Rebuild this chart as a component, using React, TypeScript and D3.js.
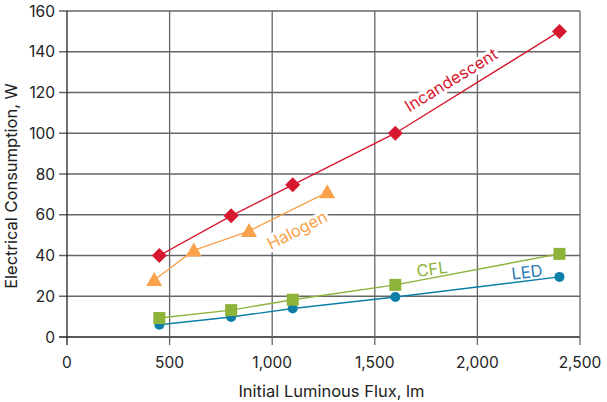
import React from "react";
import * as d3 from "d3";

const xTicks = [0, 500, 1000, 1500, 2000, 2500];
const yTicks = [0, 20, 40, 60, 80, 100, 120, 140, 160];

const incandescentX = [450, 800, 1100, 1600, 2400];
const incandescentY = [40, 59.5, 74.7, 100, 150];
const halogenX = [425, 618, 887, 1268];
const halogenY = [28, 42.5, 52, 71];
const cflX = [450, 800, 1100, 1600, 2400];
const cflY = [9.3, 13.2, 18.3, 25.6, 40.8];
const ledX = [450, 800, 1100, 1600, 2400];
const ledY = [6, 9.8, 14, 19.6, 29.5];

const FONT = "Inter, 'Liberation Sans', Arial, sans-serif";

export default function App() {
  const W = 607, H = 402;
  const x = d3.scaleLinear().domain([0, 2500]).range([67, 580]);
  const y = d3.scaleLinear().domain([0, 160]).range([337, 11]);
  const line = d3.line<[number, number]>().x(d => x(d[0])).y(d => y(d[1]));
  const pts = (xs: number[], ys: number[]) => xs.map((v, i) => [v, ys[i]] as [number, number]);

  const inc = pts(incandescentX, incandescentY);
  const hal = pts(halogenX, halogenY);
  const cfl = pts(cflX, cflY);
  const led = pts(ledX, ledY);

  const red = "#d7192f", orange = "#f9a24b", green = "#8db33a", blue = "#0d7fa6";
  const grid = "#666";
  const fs = 15.5;
  const ts = 16.5;

  return (
    <svg width={W} height={H} style={{ position: "absolute", left: 0, top: 0, background: "#fff" }}>
      {yTicks.map(t => (
        <line key={"gy" + t} x1={59} x2={580} y1={y(t)} y2={y(t)} stroke={t === 0 ? "#222" : grid} strokeWidth={1.3} />
      ))}
      {xTicks.map(t => (
        <line key={"gx" + t} x1={x(t)} x2={x(t)} y1={11} y2={345} stroke={t === 0 ? "#222" : grid} strokeWidth={1.3} />
      ))}
      {yTicks.map(t => (
        <text key={"ty" + t} x={55} y={y(t)} dy="0.36em" textAnchor="end" fontFamily={FONT} fontSize={fs} fill="#222">{t}</text>
      ))}
      {xTicks.map(t => (
        <text key={"tx" + t} x={x(t)} y={362} dy="0.36em" textAnchor="middle" fontFamily={FONT} fontSize={fs} fill="#222">{d3.format(",")(t)}</text>
      ))}
      <text x={331.5} y={391} dy="0.36em" textAnchor="middle" fontFamily={FONT} fontSize={ts} fill="#222">Initial Luminous Flux, lm</text>
      <text transform={`translate(11.5,186) rotate(-90)`} dy="0.36em" textAnchor="middle" fontFamily={FONT} fontSize={ts} fill="#222">Electrical Consumption, W</text>

      <text transform="translate(451,80) rotate(-31.5)" dy="0.36em" textAnchor="middle" fontFamily={FONT} fontSize={ts} fill={red} stroke="#fff" strokeWidth={6} paintOrder="stroke" strokeLinejoin="round">Incandescent</text>
      <text transform="translate(297,230) rotate(-27)" dy="0.36em" textAnchor="middle" fontFamily={FONT} fontSize={ts} fill={orange} stroke="#fff" strokeWidth={6} paintOrder="stroke" strokeLinejoin="round">Halogen</text>
      <text transform="translate(432,269) rotate(-8)" dy="0.36em" textAnchor="middle" fontFamily={FONT} fontSize={ts} fill={green}>CFL</text>
      <text transform="translate(527,272) rotate(-7)" dy="0.36em" textAnchor="middle" fontFamily={FONT} fontSize={ts} fill="#2a78b5">LED</text>

      <path d={line(inc) || ""} fill="none" stroke={red} strokeWidth={1.4} />
      <path d={line(hal) || ""} fill="none" stroke={orange} strokeWidth={1.4} />
      <path d={line(cfl) || ""} fill="none" stroke={green} strokeWidth={1.4} />
      <path d={line(led) || ""} fill="none" stroke={blue} strokeWidth={1.4} />

      {led.map((d, i) => (
        <circle key={"l" + i} cx={x(d[0])} cy={y(d[1])} r={5} fill={blue} />
      ))}
      {cfl.map((d, i) => (
        <rect key={"c" + i} x={x(d[0]) - 6} y={y(d[1]) - 6} width={12} height={12} fill={green} />
      ))}
      {inc.map((d, i) => (
        <path key={"i" + i} transform={`translate(${x(d[0])},${y(d[1])})`} d="M0,-7.5L7.5,0L0,7.5L-7.5,0Z" fill={red} />
      ))}
      {hal.map((d, i) => (
        <path key={"h" + i} transform={`translate(${x(d[0])},${y(d[1])})`} d="M0,-8L8,6L-8,6Z" fill={orange} />
      ))}
    </svg>
  );
}
